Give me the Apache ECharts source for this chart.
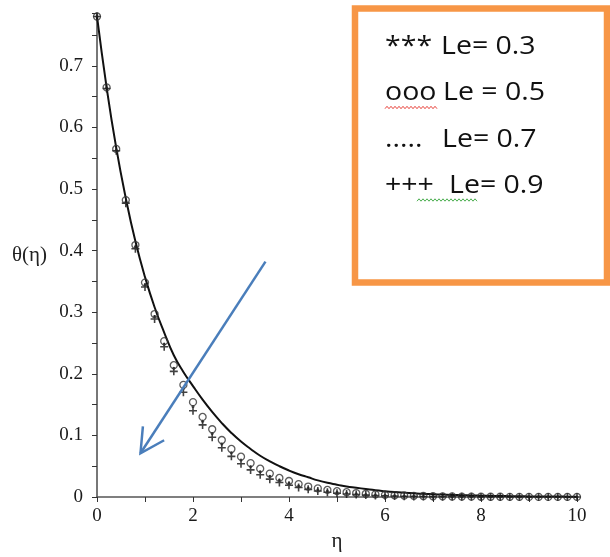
<!DOCTYPE html>
<html><head><meta charset="utf-8">
<script src="https://cdn.jsdelivr.net/npm/echarts@6/dist/echarts.min.js"></script>
<style>html,body{margin:0;padding:0;background:#fff}#c{width:610px;height:557px}</style>
</head><body><div id="c"></div>
<script>
// eta grid (x values)
const eta = [0,0.2,0.4,0.6,0.8,1.0,1.2,1.4,1.6,1.8,2.0,2.2,2.4,2.6,2.8,3.0,3.2,3.4,3.6,3.8,4.0,4.2,4.4,4.6,4.8,5.0,5.2,5.4,5.6,5.8,6.0,6.2,6.4,6.6,6.8,7.0,7.2,7.4,7.6,7.8,8.0,8.2,8.4,8.6,8.8,9.0,9.2,9.4,9.6,9.8,10];
// solid curve (Le = 0.3)
const thetaLine = [0.780,0.665,0.567,0.485,0.415,0.357,0.308,0.267,0.230,0.203,0.180,0.158,0.138,0.120,0.104,0.090,0.078,0.067,0.058,0.050,0.043,0.037,0.032,0.027,0.023,0.020,0.017,0.015,0.013,0.011,0.0095,0.0082,0.0071,0.0061,0.0052,0.0045,0.0039,0.0033,0.0029,0.0025,0.0021,0.0018,0.0016,0.0014,0.0012,0.0010,0.0009,0.0008,0.0007,0.0006,0.0005];
// "ooo" Le = 0.5
const thetaO = [0.780,0.665,0.565,0.482,0.409,0.348,0.297,0.253,0.214,0.182,0.154,0.130,0.110,0.0925,0.078,0.0655,0.055,0.046,0.038,0.031,0.026,0.021,0.017,0.014,0.0115,0.0095,0.0078,0.0064,0.0052,0.0043,0.0035,0.0029,0.0024,0.0019,0.0016,0.0013,0.0011,0.0009,0.0007,0.0006,0.0005,0.0004,0.0004,0.0003,0.0003,0.0002,0.0002,0.0002,0.0001,0.0001,0.0001];
// "....." Le = 0.7
const thetaDot = [0.780,0.664,0.563,0.479,0.406,0.344,0.293,0.248,0.209,0.176,0.147,0.123,0.103,0.086,0.072,0.060,0.0495,0.041,0.0335,0.027,0.0225,0.018,0.0147,0.0119,0.0097,0.0079,0.0064,0.0052,0.0042,0.0034,0.0027,0.0022,0.0018,0.0014,0.0011,0.0009,0.0007,0.0006,0.0005,0.0004,0.0003,0.0003,0.0002,0.0002,0.0002,0.0001,0.0001,0.0001,0.0001,0.0001,0.0000];
// "+++" Le = 0.9
const thetaPlus = [0.780,0.663,0.562,0.477,0.403,0.341,0.289,0.244,0.204,0.170,0.140,0.117,0.097,0.080,0.066,0.054,0.044,0.036,0.029,0.0235,0.019,0.0153,0.0124,0.0098,0.0078,0.0062,0.0049,0.0039,0.0031,0.0025,0.0020,0.0016,0.0013,0.0010,0.0008,0.0006,0.0005,0.0004,0.0003,0.0003,0.0002,0.0002,0.0001,0.0001,0.0001,0.0001,0.0000,0.0000,0.0000,0.0000,0.0000];
// annotation arrow (data coords): start, tip
const arrowStart = [3.51, 0.382];
const arrowTip = [0.906, 0.071];
// legend text lines
const legendPrefix = ['***', 'ooo', '.....', '+++'];
const legendRest = ['Le= 0.3', 'Le = 0.5', 'Le= 0.7', 'Le= 0.9'];

const serif = 'Liberation Serif';
const chart = echarts.init(document.getElementById('c'));
const pairs = v => eta.map((x, i) => [x, v[i]]);
const plusPath = 'path://M4,0L6,0L6,4L10,4L10,6L6,6L6,10L4,10L4,6L0,6L0,4L4,4Z';

chart.setOption({
  animation: false,
  grid: {left: 97, right: 33, top: 13.4, bottom: 60},
  xAxis: {
    type: 'value', min: 0, max: 10, interval: 2,
    name: 'η', nameLocation: 'middle', nameGap: 31,
    nameTextStyle: {fontFamily: serif, fontSize: 21, color: '#222'},
    axisLine: {show: true, onZero: false, lineStyle: {color: '#555', width: 1.6}},
    axisTick: {show: true, length: 5, lineStyle: {color: '#333', width: 1}},
    minorTick: {show: true, splitNumber: 2, length: 5, lineStyle: {color: '#333', width: 1}},
    splitLine: {show: false},
    axisLabel: {fontFamily: serif, fontSize: 19, color: '#1a1a1a', margin: 10}
  },
  yAxis: {
    type: 'value', min: 0, max: 0.785, interval: 0.1,
    name: 'θ(η)', nameLocation: 'middle', nameRotate: 0, nameGap: 50,
    nameTextStyle: {fontFamily: serif, fontSize: 21, color: '#222'},
    axisLine: {show: true, onZero: false, lineStyle: {color: '#555', width: 1.6}},
    axisTick: {show: true, length: 5, lineStyle: {color: '#333', width: 1}},
    minorTick: {show: true, splitNumber: 2, length: 5, lineStyle: {color: '#333', width: 1}},
    splitLine: {show: false},
    axisLabel: {fontFamily: serif, fontSize: 19, color: '#1a1a1a', margin: 14, showMaxLabel: false}
  },
  series: [
    {name: 'Le= 0.3', type: 'line', data: pairs(thetaLine), showSymbol: false, smooth: true,
     lineStyle: {color: '#111', width: 2}, z: 2},
    {name: 'Le= 0.9', type: 'scatter', data: pairs(thetaPlus), symbol: plusPath, symbolSize: 8,
     itemStyle: {color: '#111'}, z: 3},
    {name: 'Le= 0.7', type: 'scatter', data: pairs(thetaDot), symbol: 'circle', symbolSize: 3,
     itemStyle: {color: '#222'}, z: 3},
    {name: 'Le = 0.5', type: 'scatter', data: pairs(thetaO), symbol: 'circle', symbolSize: 7,
     itemStyle: {color: 'rgba(255,255,255,0)', borderColor: '#333', borderWidth: 1.3}, z: 4}
  ]
});

// graphics: legend box, texts, arrow
const g = [];
g.push({type: 'rect', shape: {x: 355, y: 8.5, width: 252, height: 274},
  style: {fill: '#fff', stroke: '#F79646', lineWidth: 6.5}, z: 10});
const lineY = [46.5, 93, 139.5, 185.5];
const restX = [441, 443, 442, 449];
const sx = 1.14;
for (let i = 0; i < 4; i++) {
  g.push({type: 'text', x: 385, y: lineY[i], scaleX: sx, style: {text: legendPrefix[i], font: '25px "Open Sans"', fill: '#111', verticalAlign: 'middle'}, z: 11});
  g.push({type: 'text', x: restX[i], y: lineY[i], scaleX: sx, style: {text: legendRest[i], font: '25px "Open Sans"', fill: '#111', verticalAlign: 'middle'}, z: 11});
}
function wavy(x0, x1, y, color) {
  const pts = [];
  let k = 0;
  for (let x = x0; x <= x1; x += 2) { pts.push([x, y + (k % 2 ? -1.2 : 1.2)]); k++; }
  return {type: 'polyline', shape: {points: pts}, style: {stroke: color, lineWidth: 1, fill: null}, z: 11};
}
g.push(wavy(385, 437, 107.5, '#E8433C'));
g.push(wavy(417, 477, 200, '#4CAF50'));

const S = chart.convertToPixel({gridIndex: 0}, arrowStart);
const T = chart.convertToPixel({gridIndex: 0}, arrowTip);
const dx = S[0] - T[0], dy = S[1] - T[1], len = Math.hypot(dx, dy);
const ux = dx / len, uy = dy / len;
const L = 27, a = 28 * Math.PI / 180;
const w1 = [T[0] + L * (ux * Math.cos(a) - uy * Math.sin(a)), T[1] + L * (ux * Math.sin(a) + uy * Math.cos(a))];
const w2 = [T[0] + L * (ux * Math.cos(-a) - uy * Math.sin(-a)), T[1] + L * (ux * Math.sin(-a) + uy * Math.cos(-a))];
const blue = '#4A7EBB';
g.push({type: 'line', shape: {x1: S[0], y1: S[1], x2: T[0], y2: T[1]}, style: {stroke: blue, lineWidth: 2.5}, z: 12});
g.push({type: 'polyline', shape: {points: [w1, T, w2]}, style: {stroke: blue, lineWidth: 2.5, fill: null, lineJoin: 'miter'}, z: 12});
chart.setOption({graphic: g});
</script></body></html>
